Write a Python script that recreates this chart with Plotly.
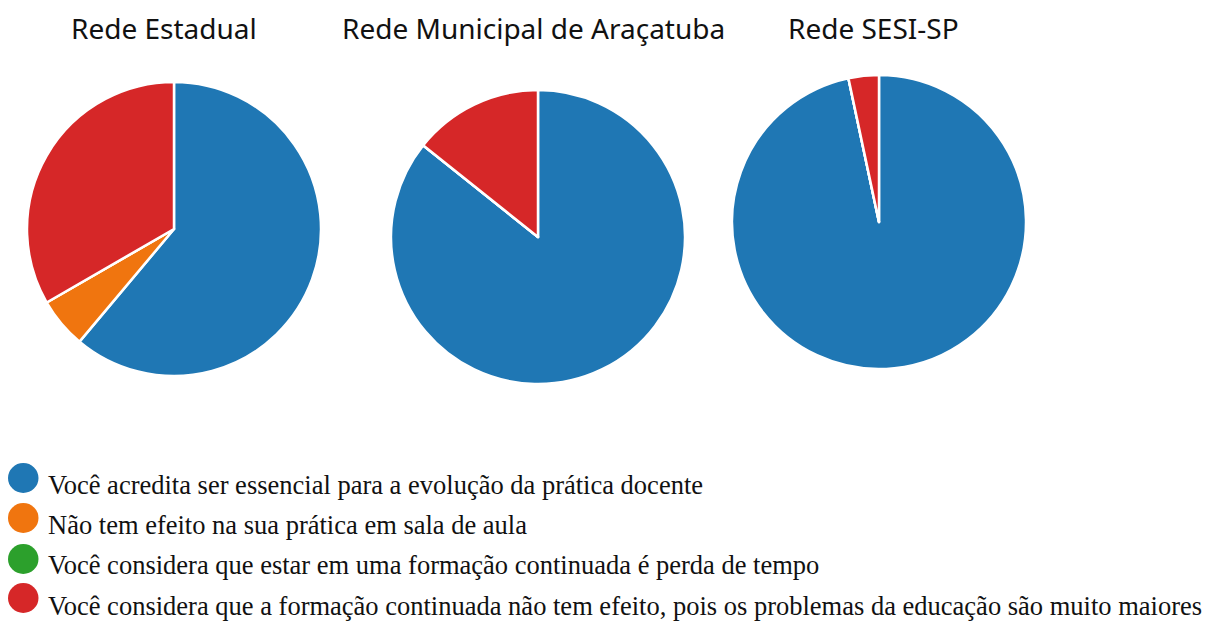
import plotly.graph_objects as go

labels = [
    "Você acredita ser essencial para a evolução da prática docente",
    "Não tem efeito na sua prática em sala de aula",
    "Você considera que estar em uma formação continuada é perda de tempo",
    "Você considera que a formação continuada não tem efeito, pois os problemas da educação são muito maiores",
]
colors = ["#1f77b4", "#f0750f", "#2ca02c", "#d62728"]

titles = ["Rede Estadual", "Rede Municipal de Araçatuba", "Rede SESI-SP"]
estadual = [11, 1, 0, 6]
municipal = [6, 0, 0, 1]
sesi = [29, 0, 0, 1]
series = [estadual, municipal, sesi]

OFF = 8  # page body margin
W, H = 1216 - OFF, 623 - OFF


def px(x):
    return (x - OFF) / W


def py(y):
    return 1 - (y - OFF) / H


# pie boxes in page pixels (left, top, diameter)
boxes = [(27, 82, 294), (391, 90, 294), (732, 75, 294)]
title_x = [164, 533, 873]

fig = go.Figure()
for vals, (l, t, d) in zip(series, boxes):
    fig.add_trace(go.Pie(
        labels=labels, values=vals, sort=False, direction="clockwise",
        marker=dict(colors=colors, line=dict(color="white", width=2.5)),
        textinfo="none", hoverinfo="label+percent", showlegend=False,
        domain=dict(x=[px(l), px(l + d)], y=[py(t + d), py(t)]),
    ))

annotations = []
for tx, tt in zip(title_x, titles):
    annotations.append(dict(
        text=tt, x=px(tx), y=py(28), xref="paper", yref="paper",
        xanchor="center", yanchor="middle", showarrow=False,
        font=dict(family="Noto Sans", size=28, color="#111111"),
    ))

shapes = []
circ_y = [478, 518, 559, 598]
text_y = [484.5, 524.5, 564.5, 605.5]
for i, (lab, col) in enumerate(zip(labels, colors)):
    cy = circ_y[i]
    shapes.append(dict(
        type="circle", xref="paper", yref="paper",
        x0=px(8), x1=px(38.5), y0=py(cy + 15), y1=py(cy - 15),
        fillcolor=col, line=dict(width=0),
    ))
    annotations.append(dict(
        text=lab, x=px(46), y=py(text_y[i]), xref="paper", yref="paper",
        xanchor="left", yanchor="middle", showarrow=False,
        font=dict(family="Liberation Serif", size=26.5, color="#111111"),
    ))

fig.update_layout(
    width=W, height=H, margin=dict(l=0, r=0, t=0, b=0),
    paper_bgcolor="white", plot_bgcolor="white",
    annotations=annotations, shapes=shapes,
)
fig.write_html("out.html")
